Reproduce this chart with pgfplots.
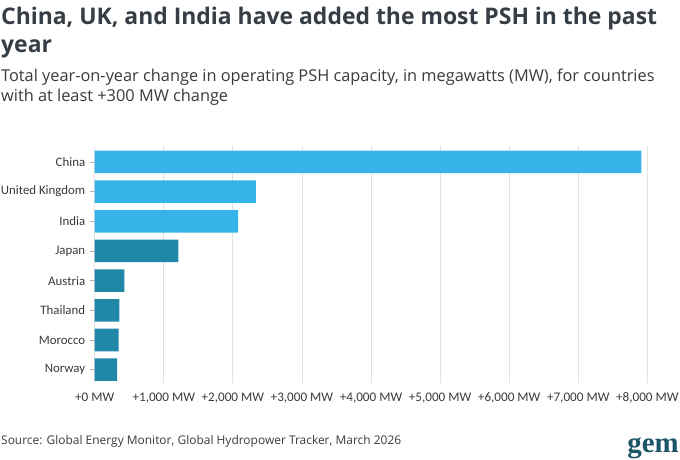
\documentclass[border=0pt]{standalone}
\usepackage{pgfplots}
\pgfplotsset{compat=1.18}
\usepackage{fontspec}
\setmainfont{Open Sans}
\newfontfamily\tickfont{Carlito}
\newfontfamily\logofont{Liberation Serif}
\definecolor{lightbar}{HTML}{36B3E8}
\definecolor{darkbar}{HTML}{2087A6}
\definecolor{titlec}{HTML}{363D45}
\definecolor{textc}{HTML}{3A3A3A}
\definecolor{gridc}{HTML}{E2E2E2}
\definecolor{logoc}{HTML}{1C5566}
\begin{document}
\begin{tikzpicture}[x=1bp,y=1bp]
\path[use as bounding box] (0,0) rectangle (680,-460);
\node[anchor=base west,inner sep=0,text=titlec,font=\fontsize{23}{28}\selectfont\bfseries] at (1,-25) {China, UK, and India have added the most PSH in the past};
\node[anchor=base west,inner sep=0,text=titlec,font=\fontsize{23}{28}\selectfont\bfseries] at (1,-53) {year};
\node[anchor=base west,inner sep=0,text=textc,font=\fontsize{16.4}{20}\selectfont] at (1,-82) {Total year-on-year change in operating PSH capacity, in megawatts (MW), for countries};
\node[anchor=base west,inner sep=0,text=textc,font=\fontsize{16.4}{20}\selectfont] at (1,-102) {with at least +300 MW change};
\node[anchor=base west,inner sep=0,text=textc,font=\fontsize{12}{13}\selectfont] at (1,-444) {Source: Global Energy Monitor, Global Hydropower Tracker, March 2026};
\node[anchor=base east,inner sep=0,text=logoc,font=\logofont\bfseries\fontsize{29}{30}\selectfont] at (679,-452) {gem};
\begin{axis}[
  at={(94.7bp,-383bp)}, anchor=south west,
  scale only axis, width=552.6bp, height=236.8bp,
  xbar, bar width=0.76,
  xmin=0, xmax=8000, ymin=-0.45, ymax=7.53,
  axis line style={draw=none},
  xtick={0,1000,...,8000},
  xticklabels={+0 MW,{+1,000 MW},{+2,000 MW},{+3,000 MW},{+4,000 MW},{+5,000 MW},{+6,000 MW},{+7,000 MW},{+8,000 MW}},
  ytick={0,...,7},
  yticklabels={Norway,Morocco,Thailand,Austria,Japan,India,United Kingdom,China},
  ytick pos=left, xtick pos=bottom,
  xmajorgrids, grid style={gridc, line width=0.8pt},
  major x tick style={draw=none},
  major y tick style={draw=gray!60, line width=0.6pt},
  tick align=outside, major tick length=5bp,
  xticklabel style={font=\tickfont\fontsize{13.2}{15}\selectfont, text=textc, yshift=-1bp},
  yticklabel style={font=\tickfont\fontsize{12.9}{15}\selectfont, text=textc, xshift=-1bp},
]
\addplot[fill=lightbar, draw=none, bar shift=0pt] coordinates {(7915,7) (2335,6) (2078,5)};
\addplot[fill=darkbar, draw=none, bar shift=0pt] coordinates {(1210,4) (430,3) (356,2) (347,1) (323,0)};
\end{axis}
\end{tikzpicture}
\end{document}
